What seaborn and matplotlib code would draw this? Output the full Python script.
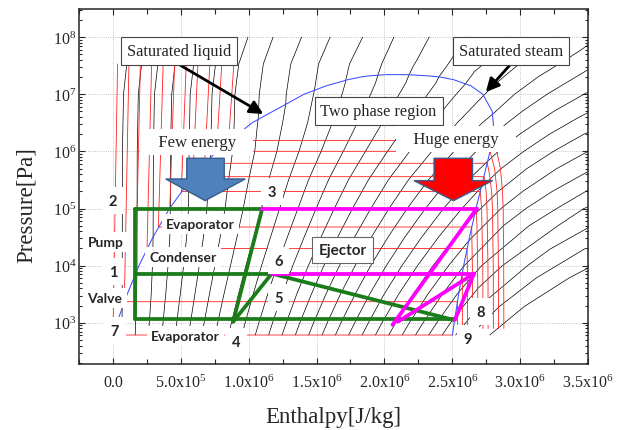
import numpy as np
import pandas as pd
import matplotlib
matplotlib.use("Agg")
import matplotlib.pyplot as plt
import seaborn as sns
from matplotlib.patches import Polygon
from matplotlib.ticker import FixedLocator, LogLocator, NullFormatter, MultipleLocator

# ------------------------------------------------------------------
# DATA  (enthalpy h in MJ/kg, pressure as log10(p / Pa))
# ------------------------------------------------------------------
x_tick_values = [0.0, 0.5, 1.0, 1.5, 2.0, 2.5, 3.0, 3.5]
x_tick_labels = ["0.0", r"$\mathregular{5.0x10^{5}}$", r"$\mathregular{1.0x10^{6}}$",
                 r"$\mathregular{1.5x10^{6}}$", r"$\mathregular{2.0x10^{6}}$",
                 r"$\mathregular{2.5x10^{6}}$", r"$\mathregular{3.0x10^{6}}$",
                 r"$\mathregular{3.5x10^{6}}$"]
y_tick_exponents = [3, 4, 5, 6, 7, 8]

# saturation dome
sat_liquid_h = [0.000, 0.029, 0.105, 0.192, 0.295, 0.417, 0.570, 0.763, 1.025, 1.408,
                1.571, 1.732, 1.827, 1.888, 2.010, 2.087]
sat_liquid_lp = [2.786, 3.0, 3.5, 4.0, 4.5, 5.0, 5.5, 6.0, 6.5, 7.0,
                 7.146, 7.255, 7.301, 7.322, 7.342, 7.344]
sat_vapour_h = [2.087, 2.170, 2.319, 2.410, 2.509, 2.638, 2.725, 2.794, 2.803, 2.799,
                2.778, 2.727, 2.675, 2.627, 2.584, 2.547, 2.514, 2.501]
sat_vapour_lp = [7.344, 7.342, 7.322, 7.301, 7.255, 7.146, 7.0, 6.7, 6.477, 6.301,
                 6.0, 5.5, 5.0, 4.5, 4.0, 3.5, 3.0, 2.786]

# isotherms 0..200 degC (red)
iso_lp_sat = [2.786, 3.369, 3.868, 4.299, 4.676, 5.006, 5.298, 5.557, 5.791, 6.001, 6.191]
iso_hf = [0.000, 0.084, 0.168, 0.251, 0.335, 0.419, 0.504, 0.589, 0.676, 0.763, 0.852]
iso_hf_top = [0.034, 0.118, 0.202, 0.285, 0.370, 0.454, 0.540, 0.626, 0.714, 0.802, 0.891]
iso_hg = [2.501, 2.538, 2.574, 2.609, 2.643, 2.676, 2.706, 2.734, 2.758, 2.778, 2.793]
iso_top_lp = 7.53
iso_vapour_branches = [
    [],
    [(2.539, 2.9)],
    [(2.575, 2.9)],
    [(2.611, 4.0), (2.612, 2.9)],
    [(2.648, 4.0), (2.650, 2.9)],
    [(2.682, 4.699), (2.687, 4.0), (2.688, 2.9)],
    [(2.716, 5.0), (2.725, 4.0), (2.726, 2.9)],
    [(2.749, 5.301), (2.756, 5.0), (2.763, 4.0), (2.764, 2.9)],
    [(2.774, 5.602), (2.790, 5.301), (2.796, 5.0), (2.802, 4.0), (2.803, 2.9)],
    [(2.812, 5.699), (2.830, 5.301), (2.835, 5.0), (2.840, 4.0), (2.841, 2.9)],
    [(2.828, 6.0), (2.855, 5.699), (2.870, 5.301), (2.875, 5.0), (2.879, 4.0), (2.880, 2.9)],
]

# isentropes (black) : liquid-side crossings
isentropes_liquid_side = [
    [(0.066, 2.786), (0.068, 3.257), (0.070, 6.0), (0.078, 7.0), (0.102, 7.53)],
    [(0.164, 2.786), (0.167, 3.0), (0.174, 3.5), (0.177, 3.913), (0.179, 6.0), (0.187, 7.0), (0.211, 7.53)],
    [(0.262, 2.786), (0.268, 3.0), (0.282, 3.5), (0.291, 4.0), (0.296, 4.503), (0.298, 6.0), (0.306, 7.0), (0.331, 7.53)],
    [(0.361, 2.786), (0.369, 3.0), (0.389, 3.5), (0.406, 4.0), (0.419, 4.5), (0.423, 5.021), (0.424, 6.0), (0.433, 7.0), (0.458, 7.53)],
    [(0.459, 2.786), (0.470, 3.0), (0.496, 3.5), (0.521, 4.0), (0.543, 4.5), (0.557, 5.0), (0.559, 5.464), (0.561, 6.0), (0.569, 7.0), (0.595, 7.53)],
    [(0.557, 2.786), (0.571, 3.0), (0.604, 3.5), (0.636, 4.0), (0.667, 4.5), (0.692, 5.0), (0.705, 5.5), (0.719, 5.886), (0.720, 6.0), (0.730, 7.0), (0.756, 7.53)],
    [(0.656, 2.786), (0.672, 3.0), (0.711, 3.5), (0.751, 4.0), (0.790, 4.5), (0.826, 5.0), (0.852, 5.5), (0.882, 6.0), (0.890, 6.242), (0.899, 7.0), (0.927, 7.53), (0.995, 8.0)],
    [(0.754, 2.786), (0.772, 3.0), (0.818, 3.5), (0.866, 4.0), (0.914, 4.5), (0.960, 5.0), (1.000, 5.5), (1.045, 6.0), (1.066, 6.5), (1.070, 6.559), (1.078, 7.0), (1.108, 7.53), (1.180, 8.0)],
    [(0.852, 2.786), (0.873, 3.0), (0.925, 3.5), (0.980, 4.0), (1.038, 4.5), (1.094, 5.0), (1.147, 5.5), (1.208, 6.0), (1.250, 6.5), (1.273, 6.824), (1.277, 7.0), (1.310, 7.53), (1.390, 8.0)],
    [(0.951, 2.786), (0.974, 3.0), (1.033, 3.5), (1.095, 4.0), (1.161, 4.5), (1.228, 5.0), (1.294, 5.5), (1.371, 6.0), (1.434, 6.5), (1.478, 7.0), (1.484, 7.063), (1.515, 7.53), (1.600, 8.0)],
    [(1.049, 2.786), (1.075, 3.0), (1.140, 3.5), (1.210, 4.0), (1.285, 4.5), (1.363, 5.0), (1.441, 5.5), (1.534, 6.0), (1.617, 6.5), (1.688, 7.0), (1.712, 7.2), (1.714, 7.236), (1.743, 7.53), (1.840, 8.0)],
    [(1.147, 2.786), (1.176, 3.0), (1.247, 3.5), (1.325, 4.0), (1.409, 4.5), (1.497, 5.0), (1.588, 5.5), (1.697, 6.0), (1.801, 6.5), (1.899, 7.0), (1.935, 7.2), (1.950, 7.321), (1.980, 7.53), (2.070, 8.0)],
]
# isentropes (black) : vapour-side crossings
isentropes_vapour_side = [
    [(1.246, 2.786), (1.277, 3.0), (1.354, 3.5), (1.440, 4.0), (1.533, 4.5), (1.631, 5.0), (1.735, 5.5), (1.860, 6.0), (1.985, 6.5), (2.109, 7.0), (2.158, 7.2), (2.180, 7.33), (2.210, 7.48), (2.240, 7.6), (2.330, 8.0)],
    [(1.344, 2.786), (1.377, 3.0), (1.462, 3.5), (1.554, 4.0), (1.656, 4.5), (1.765, 5.0), (1.882, 5.5), (2.023, 6.0), (2.169, 6.5), (2.319, 7.0), (2.380, 7.2), (2.400, 7.301), (2.456, 7.48), (2.490, 7.6), (2.600, 8.0)],
    [(1.442, 2.786), (1.478, 3.0), (1.569, 3.5), (1.669, 4.0), (1.780, 4.5), (1.900, 5.0), (2.029, 5.5), (2.186, 6.0), (2.353, 6.5), (2.529, 7.0), (2.596, 7.179), (2.665, 7.4), (2.706, 7.48), (2.760, 7.6), (2.920, 8.0)],
    [(1.541, 2.786), (1.579, 3.0), (1.676, 3.5), (1.784, 4.0), (1.904, 4.5), (2.034, 5.0), (2.177, 5.5), (2.349, 6.0), (2.537, 6.5), (2.730, 6.976), (2.817, 7.176), (2.877, 7.301), (2.968, 7.48), (3.041, 7.6), (3.250, 8.0)],
    [(1.639, 2.786), (1.680, 3.0), (1.784, 3.5), (1.899, 4.0), (2.027, 4.5), (2.168, 5.0), (2.324, 5.5), (2.513, 6.0), (2.721, 6.5), (2.795, 6.646), (2.959, 7.0), (3.131, 7.301), (3.336, 7.602), (3.450, 7.778), (3.580, 8.0)],
    [(1.737, 2.786), (1.781, 3.0), (1.891, 3.5), (2.014, 4.0), (2.151, 4.5), (2.302, 5.0), (2.471, 5.5), (2.676, 6.0), (2.791, 6.265), (2.895, 6.477), (3.014, 6.699), (3.199, 7.0), (3.410, 7.301), (3.550, 7.5)],
    [(1.836, 2.786), (1.882, 3.0), (1.998, 3.5), (2.129, 4.0), (2.275, 4.5), (2.436, 5.0), (2.618, 5.5), (2.761, 5.829), (2.840, 6.0), (2.997, 6.301), (3.247, 6.699), (3.470, 7.0), (3.550, 7.1)],
    [(1.934, 2.786), (1.982, 3.0), (2.105, 3.5), (2.244, 4.0), (2.399, 4.5), (2.571, 5.0), (2.713, 5.368), (2.860, 5.699), (3.027, 6.0), (3.216, 6.301), (3.437, 6.602), (3.520, 6.7)],
    [(2.032, 2.786), (2.083, 3.0), (2.213, 3.5), (2.358, 4.0), (2.522, 4.5), (2.665, 4.896), (2.840, 5.301), (3.050, 5.699), (3.246, 6.0), (3.470, 6.301), (3.520, 6.35)],
    [(2.131, 2.786), (2.184, 3.0), (2.320, 3.5), (2.473, 4.0), (2.622, 4.437), (2.859, 5.0), (3.020, 5.301), (3.270, 5.699), (3.500, 6.0)],
    [(2.229, 2.786), (2.285, 3.0), (2.427, 3.5), (2.583, 3.986), (2.877, 4.699), (3.043, 5.0), (3.238, 5.301), (3.540, 5.699)],
    [(2.327, 2.786), (2.386, 3.0), (2.535, 3.5), (2.550, 3.545), (2.716, 4.0), (3.066, 4.699), (3.270, 5.0), (3.520, 5.35)],
    [(2.426, 2.786), (2.487, 3.0), (2.521, 3.114), (2.693, 3.614), (2.869, 4.0), (3.279, 4.699), (3.470, 5.0), (3.520, 5.05)],
]
# isentropes (black) : fully superheated
isentropes_superheated = [
    [(2.525, 2.786), (2.698, 3.286), (3.054, 4.0), (3.218, 4.286), (3.528, 4.7)],
    [(2.637, 2.786), (2.847, 3.286), (3.120, 3.786), (3.480, 4.3)],
    [(2.776, 2.786), (3.031, 3.286), (3.362, 3.786), (3.534, 4.0)],
]

# cycle segments (green / magenta): [(h1, lp1), (h2, lp2)]
green_segments = [
    [(0.16, 5.0), (1.10, 5.0)],
    [(0.16, 5.0), (0.16, 3.07)],
    [(0.16, 3.86), (1.17, 3.86)],
    [(0.16, 3.07), (2.51, 3.07)],
    [(1.10, 5.0), (0.886, 3.02)],
    [(0.886, 3.02), (1.17, 3.86)],
    [(1.17, 3.86), (2.51, 3.05)],
]
magenta_segments = [
    [(1.10, 5.0), (2.68, 5.0)],
    [(2.68, 5.0), (2.06, 2.965)],
    [(1.17, 3.86), (2.66, 3.86)],
    [(2.66, 3.86), (2.10, 3.02)],
    [(2.66, 3.86), (2.52, 3.05)],
]

# block arrows (outline vertices)
blue_arrow_h = [0.544, 0.820, 0.820, 0.975, 0.679, 0.389, 0.544]
blue_arrow_lp = [5.879, 5.879, 5.517, 5.517, 5.138, 5.517, 5.517]
red_arrow_h = [2.366, 2.649, 2.649, 2.797, 2.509, 2.218, 2.366]
red_arrow_lp = [5.879, 5.879, 5.488, 5.488, 5.138, 5.488, 5.488]

# point / component labels: (text, h, lp)
state_labels = [("2", 0.0, 5.133), ("3", 1.174, 5.29), ("1", 0.0, 3.892), ("6", 1.219, 4.084),
                ("5", 1.219, 3.437), ("7", 0.015, 2.86), ("4", 0.908, 2.668),
                ("8", 2.711, 3.192), ("9", 2.614, 2.72)]
component_labels = [("Evaporator", 0.643, 4.731), ("Pump", -0.052, 4.416),
                    ("Condenser", 0.517, 4.154), ("Valve", -0.059, 3.437),
                    ("Evaporator", 0.532, 2.773)]

# ------------------------------------------------------------------
sns.set_style("ticks")
plt.rcParams["font.family"] = ["Liberation Serif", "DejaVu Serif"]
plt.rcParams["mathtext.fontset"] = "stix"

fig = plt.figure(figsize=(6.25, 4.31), dpi=100)
ax = fig.add_axes([79 / 625, 1 - 365 / 431, 509 / 625, 355 / 431])


def to_frame(lines):
    rows = []
    for i, pts in enumerate(lines):
        for j, (h, lp) in enumerate(pts):
            rows.append((i, j, h * 1e6, 10.0 ** lp))
    return pd.DataFrame(rows, columns=["id", "order", "h", "p"])


def draw(lines, **kw):
    df = to_frame(lines)
    sns.lineplot(data=df, x="h", y="p", units="id", estimator=None, sort=False,
                 legend=False, ax=ax, **kw)


# isentropes
draw(isentropes_liquid_side + isentropes_vapour_side + isentropes_superheated,
     color="black", lw=0.5, zorder=1)

# isotherms
isotherm_lines = []
for k in range(len(iso_lp_sat)):
    pts = [(iso_hf_top[k], iso_top_lp), (iso_hf[k], iso_lp_sat[k]), (iso_hg[k], iso_lp_sat[k])]
    pts += iso_vapour_branches[k]
    isotherm_lines.append(pts)
draw(isotherm_lines, color="#ff2020", lw=0.6, zorder=1.2)

# saturation dome
dome = [list(zip(sat_liquid_h, sat_liquid_lp)) + list(zip(sat_vapour_h, sat_vapour_lp))]
draw(dome, color="#3d4dff", lw=0.75, zorder=1.5)

# cycle
draw(green_segments, color="#1a7d1a", lw=2.7, zorder=3, solid_capstyle="round")
draw(magenta_segments, color="#ff00ff", lw=2.7, zorder=3.1, solid_capstyle="round")

ax.set_yscale("log")
ax.set_xlim(-0.25e6, 3.5e6)
ax.set_ylim(190, 3.1e8)

# block arrows
ax.add_patch(Polygon(np.column_stack([np.array(blue_arrow_h) * 1e6, 10.0 ** np.array(blue_arrow_lp)]),
                     closed=True, fc="#4f81bd", ec="#385d8a", lw=1.0, zorder=4))
ax.add_patch(Polygon(np.column_stack([np.array(red_arrow_h) * 1e6, 10.0 ** np.array(red_arrow_lp)]),
                     closed=True, fc="#ff0000", ec="#385d8a", lw=1.0, zorder=4))

# boxed annotations
boxed = dict(boxstyle="square,pad=0.36", fc="white", ec="#444444", lw=0.8)
ax.text(0.487e6, 10 ** 7.755, "Saturated liquid", ha="center", va="center", fontsize=11.8,
        bbox=boxed, zorder=6)
ax.text(2.932e6, 10 ** 7.755, "Saturated steam", ha="center", va="center", fontsize=11.8,
        bbox=boxed, zorder=6)
ax.text(1.957e6, 10 ** 6.706, "Two phase region", ha="center", va="center", fontsize=11.8,
        bbox=boxed, zorder=6)
ax.annotate("", xy=(1.108e6, 10 ** 6.654), xytext=(0.48e6, 10 ** 7.53),
            arrowprops=dict(arrowstyle="-|>,head_length=0.8,head_width=0.4", color="black",
                            lw=2.0, shrinkA=0, shrinkB=0), zorder=5)
ax.annotate("", xy=(2.747e6, 10 ** 7.038), xytext=(2.932e6, 10 ** 7.53),
            arrowprops=dict(arrowstyle="-|>,head_length=0.8,head_width=0.4", color="black",
                            lw=2.0, shrinkA=0, shrinkB=0), zorder=5)

plain = dict(boxstyle="square,pad=0.3", fc="white", ec="none")
ax.text(0.62e6, 10 ** 6.164, "   Few energy   ", ha="center", va="center", fontsize=12,
        bbox=plain, zorder=6)
ax.text(2.526e6, 10 ** 6.217, "   Huge energy   ", ha="center", va="center", fontsize=12,
        bbox=plain, zorder=6)

bold_font = ["Lato", "DejaVu Sans"]
for txt, h, lp in state_labels:
    ax.text(h * 1e6, 10 ** lp, txt, ha="center", va="center", fontsize=10.5, fontweight="bold",
            family=bold_font, bbox=dict(boxstyle="square,pad=0.45", fc="white", ec="none"),
            zorder=6)
for txt, h, lp in component_labels:
    ax.text(h * 1e6, 10 ** lp, txt, ha="center", va="center", fontsize=10, fontweight="bold",
            family=bold_font, bbox=dict(boxstyle="square,pad=0.3", fc="white", ec="none"),
            zorder=6)
ax.text(1.691e6, 10 ** 4.276, "Ejector", ha="center", va="center", fontsize=11,
        fontweight="bold", family=bold_font,
        bbox=dict(boxstyle="square,pad=0.4", fc="white", ec="#666666", lw=0.8), zorder=6)

# axes styling
ax.xaxis.set_major_locator(FixedLocator([v * 1e6 for v in x_tick_values]))
ax.set_xticklabels(x_tick_labels)
ax.xaxis.set_minor_locator(MultipleLocator(0.25e6))
ax.yaxis.set_major_locator(FixedLocator([10.0 ** e for e in y_tick_exponents]))
ax.set_yticklabels([r"$\mathregular{10^{%d}}$" % e for e in y_tick_exponents])
ax.yaxis.set_minor_locator(LogLocator(base=10, subs=np.arange(2, 10)))
ax.yaxis.set_minor_formatter(NullFormatter())
ax.tick_params(which="both", direction="in", top=True, right=True, width=0.8)
ax.tick_params(which="major", length=4.5, labelsize=11.5)
ax.tick_params(which="minor", length=2.5)
ax.tick_params(axis="x", which="minor", length=3.5)
ax.tick_params(axis="x", which="major", pad=7)
ax.tick_params(axis="y", which="major", pad=2)
ax.grid(True, which="major", ls=":", color="#b0b0b0", lw=0.6, zorder=0)
for sp in ax.spines.values():
    sp.set_linewidth(1.1)

ax.set_xlabel("Enthalpy[J/kg]", fontsize=16.5)
ax.set_ylabel("Pressure[Pa]", fontsize=16.5)
ax.xaxis.set_label_coords(0.5, -0.118)
ax.yaxis.set_label_coords(-0.083, 0.45)

fig.savefig("out.png", dpi=100)
